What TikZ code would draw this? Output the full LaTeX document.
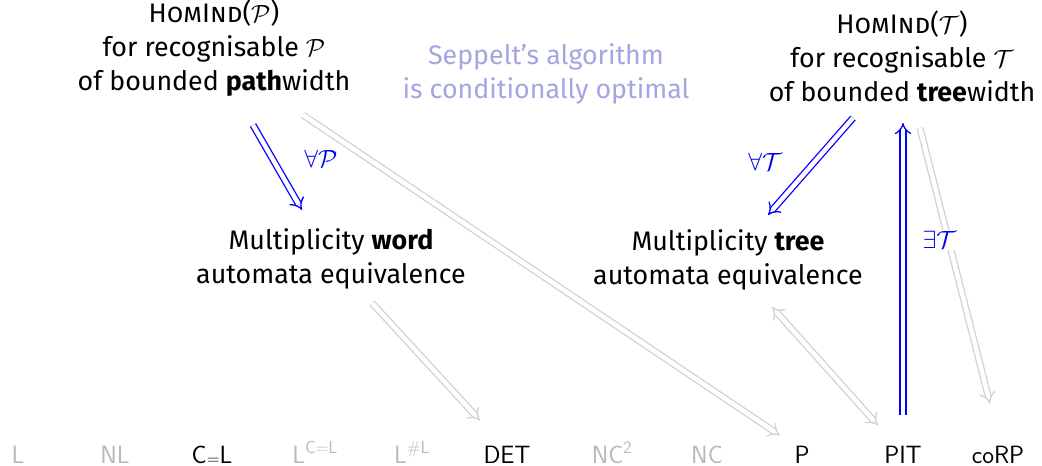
\documentclass[tikz,border=0pt]{standalone}
\usepackage{fontspec}
\setmainfont{Fira Sans}
\usetikzlibrary{arrows.meta}
\definecolor{dimtext}{RGB}{185,185,185}
\definecolor{arrowgray}{RGB}{210,210,210}
\definecolor{seppelt}{RGB}{165,165,225}
\newcommand{\smalleq}{\raisebox{-1.5pt}{\fontsize{17.5}{17.5}\selectfont=}}
\tikzset{
  txt/.style={align=center, inner sep=0pt, font=\fontsize{26.8}{34}\selectfont},
  cls/.style={anchor=base, inner sep=0pt, font=\sffamily\fontsize{25}{30}\selectfont},
  dimcls/.style={cls, text=dimtext},
  imp/.style={double, double distance=4.5pt, line width=1.3pt, -{Implies}},
  blueimp/.style={imp, draw=blue},
  grayimp/.style={imp, draw=arrowgray},
  lbl/.style={text=blue, fill=white, inner sep=1pt, font=\fontsize{24}{24}\selectfont}
}
\begin{document}
\begin{tikzpicture}[x=1pt,y=-1pt]
\useasboundingbox[fill=white] (0,0) rectangle (1042,466);
% top row
\node[txt, anchor=south] (hp) at (214,97) {\textsc{HomInd}($\mathcal{P}$)\\for recognisable $\mathcal{P}$\\of bounded \textbf{path}width};
\node[txt, anchor=south, text=seppelt] (sep) at (546,104) {Seppelt's algorithm\\is conditionally optimal};
\node[txt, anchor=south] (ht) at (902,102) {\textsc{HomInd}($\mathcal{T}$)\\for recognisable $\mathcal{T}$\\of bounded \textbf{tree}width};
% middle row
\node[txt, anchor=north] (word) at (331,228) {Multiplicity \textbf{word}\\automata equivalence};
\node[txt, anchor=north] (tree) at (728,229) {Multiplicity \textbf{tree}\\automata equivalence};
% bottom row
\node[dimcls] (L) at (18,463) {L};
\node[dimcls] (NL) at (115,463) {NL};
\node[cls] (CeqL) at (212,463) {C\smalleq L};
\node[dimcls] (LCeqL) at (315,463) {L\textsuperscript{C=L}};
\node[dimcls] (LsharpL) at (412,463) {L\textsuperscript{\#L}};
\node[cls] (DET) at (507,463) {DET};
\node[dimcls] (NC2) at (612,463) {NC\textsuperscript{2}};
\node[dimcls] (NC) at (707,463) {NC};
\node[cls] (P) at (802,463) {P};
\node[cls] (PIT) at (903,463) {PIT};
\node[cls] (coRP) at (998,463) {coRP};
% gray arrows
\draw[grayimp] ([xshift=89pt,yshift=-18pt]hp.south) -- ([xshift=-22pt,yshift=10pt]P.north);
\draw[grayimp] ([xshift=41pt,yshift=-14pt]word.south) -- ([xshift=-27pt,yshift=25pt]DET.north);
\draw[grayimp] ([xshift=18pt,yshift=-26pt]ht.south) -- ([xshift=-8pt,yshift=42pt]coRP.north);
\draw[grayimp, {Implies}-{Implies}] ([xshift=44pt,yshift=-17pt]tree.south) -- ([xshift=-25pt,yshift=20pt]PIT.north);
% blue arrows
\draw[blueimp] ([xshift=39pt,yshift=-28pt]hp.south) -- ([xshift=-29pt,yshift=18pt]word.north)
  node[lbl, pos=0.4, right=30pt] {$\forall\mathcal{P}$};
\draw[blueimp] ([xshift=-49pt,yshift=-16pt]ht.south) -- ([xshift=40pt,yshift=14pt]tree.north)
  node[lbl, pos=0.45, left=31pt] {$\forall\mathcal{T}$};
\draw[blueimp] ([yshift=30pt]PIT.north) -- ([xshift=1pt,yshift=-21pt]ht.south)
  node[lbl, pos=0.6, right=18pt] {$\exists\mathcal{T}$};
\end{tikzpicture}
\end{document}
